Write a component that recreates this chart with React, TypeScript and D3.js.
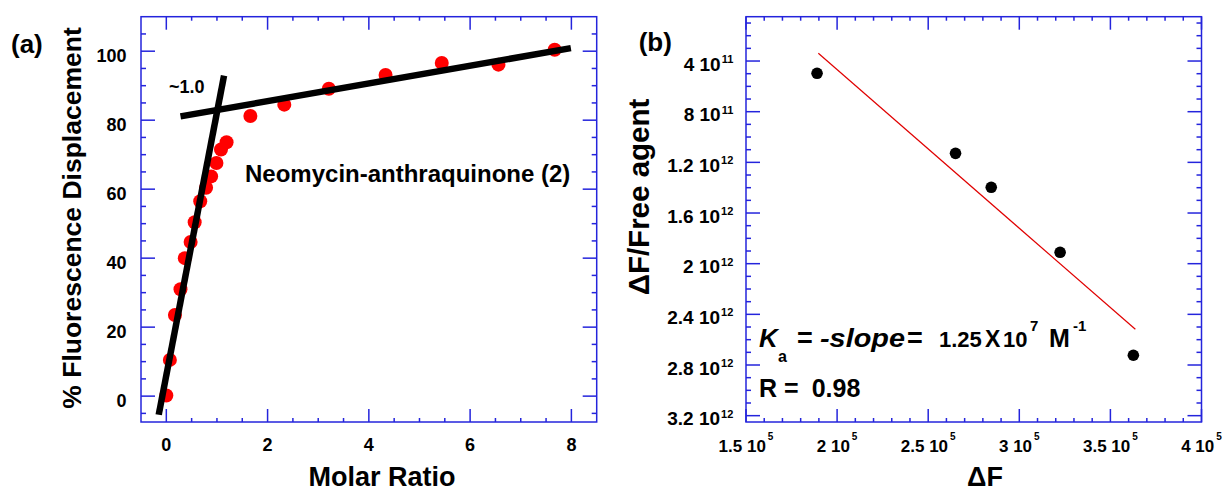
import React from 'react';
import * as d3 from 'd3';

// ---------- Panel (a) data ----------
const molarRatio = [0, 0.07, 0.17, 0.28, 0.365, 0.48, 0.56, 0.67, 0.785, 0.885, 0.99, 1.08, 1.19, 1.66, 2.33, 3.21, 4.33, 5.44, 6.56, 7.67];
const displacement = [0.2, 10.5, 23.5, 31, 40, 44.7, 50.4, 56.5, 60.4, 63.7, 67.6, 71.5, 73.6, 81.2, 84.5, 89.1, 93.1, 96.6, 96.1, 100.4];
const steepFitX = [-0.15, 1.14];
const steepFitY = [-5.4, 92.9];
const flatFitX = [0.28, 7.99];
const flatFitY = [81.1, 100.9];
const xTicksA = [0, 2, 4, 6, 8];
const yTicksA = [0, 20, 40, 60, 80, 100];

// ---------- Panel (b) data ----------
const deltaF = [1.89e5, 2.65e5, 2.846e5, 3.224e5, 3.626e5];
const dfOverFree = [4.97e11, 1.129e12, 1.397e12, 1.91e12, 2.723e12];
const fitBX = [1.897e5, 3.637e5];
const fitBY = [3.39e11, 2.518e12];
const xTicksB = [1.5e5, 2e5, 2.5e5, 3e5, 3.5e5, 4e5];
const xTickMantB = ['1.5', '2', '2.5', '3', '3.5', '4'];
const xTickExpB = ['5', '5', '5', '5', '5', '5'];
const yTicksB = [4e11, 8e11, 1.2e12, 1.6e12, 2e12, 2.4e12, 2.8e12, 3.2e12];
const yTickMantB = ['4', '8', '1.2', '1.6', '2', '2.4', '2.8', '3.2'];
const yTickExpB = ['11', '11', '12', '12', '12', '12', '12', '12'];

const FONT = "'Liberation Sans', Arial, Helvetica, sans-serif";
const BLUE = '#2424dc';

type FrameProps = {
  x: d3.ScaleLinear<number, number>;
  y: d3.ScaleLinear<number, number>;
  xMajor: number[];
  xMinor: number[];
  yMajor: number[];
  yMinor: number[];
};

function Frame({ x, y, xMajor, xMinor, yMajor, yMinor }: FrameProps) {
  const [l, r] = x.range();
  const [b, t] = y.range().slice().sort((a, c) => c - a);
  const majL = 14, minL = 5;
  const lines: JSX.Element[] = [];
  const addX = (v: number, len: number, k: string) => {
    const px = x(v);
    lines.push(<line key={'xb' + k} x1={px} x2={px} y1={b} y2={b - len} />);
    lines.push(<line key={'xt' + k} x1={px} x2={px} y1={t} y2={t + len} />);
  };
  const addY = (v: number, len: number, k: string) => {
    const py = y(v);
    lines.push(<line key={'yl' + k} x1={l} x2={l + len} y1={py} y2={py} />);
    lines.push(<line key={'yr' + k} x1={r} x2={r - len} y1={py} y2={py} />);
  };
  xMajor.forEach((v, i) => addX(v, majL - 1, 'M' + i));
  xMinor.forEach((v, i) => addX(v, minL - 1, 'm' + i));
  yMajor.forEach((v, i) => addY(v, majL, 'M' + i));
  yMinor.forEach((v, i) => addY(v, minL, 'm' + i));
  return (
    <g stroke={BLUE} strokeWidth={1.5} fill="none">
      {lines}
      <rect x={l} y={t} width={r - l} height={b - t} />
    </g>
  );
}

export default function App() {
  // scales
  const xA = d3.scaleLinear().domain([-0.5, 8.5]).range([141, 596.7]);
  const yA = d3.scaleLinear().domain([-7.5, 110]).range([422, 16.7]);
  const xB = d3.scaleLinear().domain([1.5e5, 4e5]).range([746, 1201.5]);
  const yB = d3.scaleLinear().domain([0.5e11, 3.25e12]).range([16.7, 422]);

  const near = (arr: number[], v: number) => arr.some((m) => Math.abs(m - v) < 1e-6 * Math.max(1, Math.abs(v)));
  const xMinorA = d3.range(0, 8.5, 0.5).filter((v) => !near(xTicksA, v));
  const yMinorA = d3.range(-5, 110, 5).filter((v) => !near(yTicksA, v));
  const xMinorB = d3.range(1.6e5, 4e5, 1e4).filter((v) => !near(xTicksB, v));
  const yMinorB = d3.range(1e11, 3.25e12, 1e11).filter((v) => !near(yTicksB, v));

  const lineGen = d3
    .line<[number, number]>()
    .x((d) => d[0])
    .y((d) => d[1]);

  const steep = lineGen(steepFitX.map((v, i) => [xA(v), yA(steepFitY[i])] as [number, number]));
  const flat = lineGen(flatFitX.map((v, i) => [xA(v), yA(flatFitY[i])] as [number, number]));
  const fitB = lineGen(fitBX.map((v, i) => [xB(v), yB(fitBY[i])] as [number, number]));

  return (
    <svg
      width={1231}
      height={492}
      style={{ position: 'absolute', left: 0, top: 0, background: '#fff' }}
      fontFamily={FONT}
      fontWeight="bold"
    >
      <rect width={1231} height={492} fill="#fff" />

      {/* ================= Panel (a) ================= */}
      <Frame x={xA} y={yA} xMajor={xTicksA} xMinor={xMinorA} yMajor={yTicksA} yMinor={yMinorA} />

      {molarRatio.map((v, i) => (
        <circle key={'pa' + i} cx={xA(v)} cy={yA(displacement[i])} r={7} fill="#ff0000" />
      ))}
      <path d={steep || ''} stroke="#000" strokeWidth={6.5} fill="none" />
      <path d={flat || ''} stroke="#000" strokeWidth={6.5} fill="none" />

      {yTicksA.map((v) => (
        <text key={'yla' + v} x={126.5} y={yA(v) + 10.6} fontSize={18} textAnchor="end">
          {v}
        </text>
      ))}
      {xTicksA.map((v) => (
        <text key={'xla' + v} x={xA(v)} y={450.7} fontSize={18} textAnchor="middle">
          {v}
        </text>
      ))}
      <text x={11} y={53} fontSize={26}>(a)</text>
      <text x={382} y={486} fontSize={27} textAnchor="middle">Molar Ratio</text>
      <text transform="translate(81,218) rotate(-90)" fontSize={26.5} textAnchor="middle">
        % Fluorescence Displacement
      </text>
      <text x={169} y={92.7} fontSize={18}>~1.0</text>
      <text x={245} y={181.7} fontSize={24}>Neomycin-anthraquinone (2)</text>

      {/* ================= Panel (b) ================= */}
      <Frame x={xB} y={yB} xMajor={xTicksB} xMinor={xMinorB} yMajor={yTicksB} yMinor={yMinorB} />

      <path d={fitB || ''} stroke="#e00000" strokeWidth={1.2} fill="none" />
      {deltaF.map((v, i) => (
        <circle key={'pb' + i} cx={xB(v)} cy={yB(dfOverFree[i])} r={5.8} fill="#000" />
      ))}

      {yTicksB.map((v, i) => (
        <text key={'ylb' + i} x={733.3} y={yB(v) + 9.7} fontSize={19} textAnchor="end">
          {yTickMantB[i] + ' 10'}
          <tspan fontSize={11} dx={1} dy={-7.7}>{yTickExpB[i]}</tspan>
        </text>
      ))}
      {xTicksB.map((v, i) => (
        <text key={'xlb' + i} x={xB(v)} y={452} fontSize={17} textAnchor="middle">
          {xTickMantB[i] + ' 10'}
          <tspan fontSize={10} dx={2} dy={-12}>{xTickExpB[i]}</tspan>
        </text>
      ))}

      <text x={638.7} y={51} fontSize={26}>(b)</text>
      <text x={985} y={486} fontSize={27} textAnchor="middle">ΔF</text>
      <text transform="translate(649,197) rotate(-90)" fontSize={29.5} textAnchor="middle">
        ΔF/Free agent
      </text>

      {/* annotation */}
      <g fontSize={24}>
        <text x={759} y={346.7} fontSize={26} fontStyle="italic">K</text>
        <text x={778} y={361.7} fontSize={16}>a</text>
        <text x={797} y={346.7} fontSize={27}>=</text>
        <text x={820} y={346.7} fontSize={25} fontStyle="italic" textLength={85} lengthAdjust="spacingAndGlyphs">-slope</text>
        <text x={907} y={346.7} fontSize={27}>=</text>
        <text x={939} y={346.7} fontSize={22}>1.25</text>
        <text x={985} y={346.7} fontSize={23}>X</text>
        <text x={1003} y={346.7} fontSize={22}>10</text>
        <text x={1030} y={331} fontSize={15}>7</text>
        <text x={1049} y={346.7} fontSize={25}>M</text>
        <text x={1073} y={331} fontSize={15}>-1</text>
        <text x={759} y={397} fontSize={25}>R =</text>
        <text x={811.7} y={397} fontSize={25}>0.98</text>
      </g>
    </svg>
  );
}
